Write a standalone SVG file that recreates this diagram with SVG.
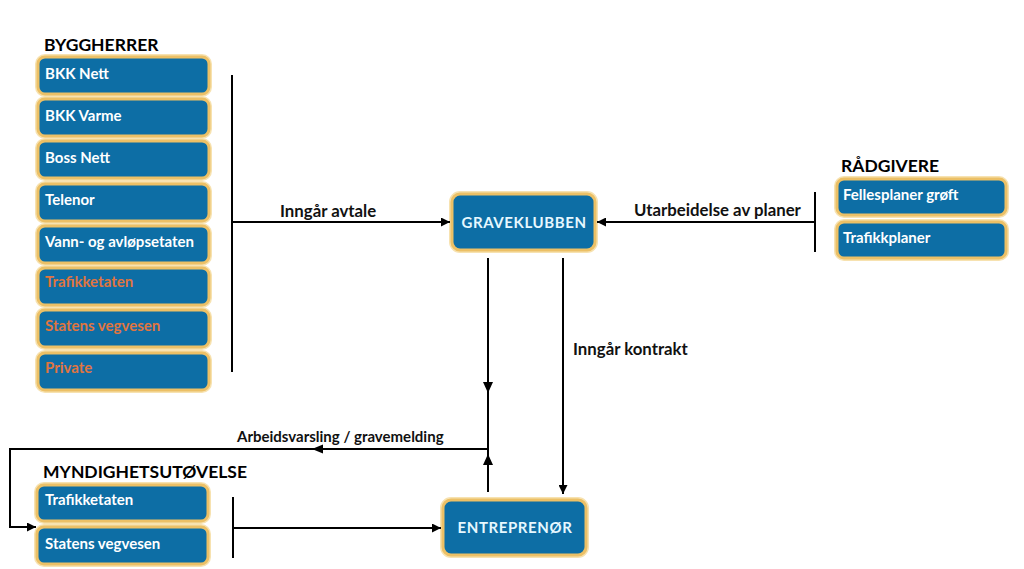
<svg xmlns="http://www.w3.org/2000/svg" width="1024" height="569" viewBox="0 0 1024 569">
<defs>
<style>
.box{fill:#0d6ea5;stroke:#ecc066;stroke-width:3}
.glow{fill:none;stroke:#f7e2b0;stroke-width:6}
.bt{font-family:Lato,"Liberation Sans",sans-serif;font-weight:700;font-size:15px;fill:#ffffff}
.ot{fill:#e0753f}
.ct{font-family:Lato,"Liberation Sans",sans-serif;font-weight:700;font-size:15px;fill:#e6f8ff;letter-spacing:0.6px}
.hd{font-family:Lato,"Liberation Sans",sans-serif;font-weight:700;font-size:17.5px;fill:#000}
.lb{font-family:Lato,"Liberation Sans",sans-serif;font-weight:700;font-size:16.8px;fill:#111}
.ln{stroke:#000;stroke-width:2;fill:none}
.ah{fill:#000}
</style>
<marker id="arr" viewBox="0 0 10 10" refX="10" refY="5" markerWidth="10" markerHeight="9" markerUnits="userSpaceOnUse" orient="auto">
<path d="M0,0 L10,5 L0,10 z" fill="#000"/>
</marker>
</defs>
<rect width="1024" height="569" fill="#ffffff"/>

<text class="hd" x="44" y="51">BYGGHERRER</text>
<text class="hd" x="43" y="478">MYNDIGHETSUTØVELSE</text>
<text class="hd" x="841" y="172">RÅDGIVERE</text>

<g id="bkk-nett"><rect class="glow" x="38" y="57" width="171" height="37" rx="7"/><rect class="box" x="38" y="57" width="171" height="37" rx="7"/><text class="bt" x="45" y="79">BKK Nett</text></g>
<g id="bkk-varme"><rect class="glow" x="38" y="99" width="171" height="37" rx="7"/><rect class="box" x="38" y="99" width="171" height="37" rx="7"/><text class="bt" x="45" y="121">BKK Varme</text></g>
<g id="boss-nett"><rect class="glow" x="38" y="141" width="171" height="37" rx="7"/><rect class="box" x="38" y="141" width="171" height="37" rx="7"/><text class="bt" x="45" y="163">Boss Nett</text></g>
<g id="telenor"><rect class="glow" x="38" y="184" width="171" height="37" rx="7"/><rect class="box" x="38" y="184" width="171" height="37" rx="7"/><text class="bt" x="45" y="205">Telenor</text></g>
<g id="vann"><rect class="glow" x="38" y="226" width="171" height="37" rx="7"/><rect class="box" x="38" y="226" width="171" height="37" rx="7"/><text class="bt" x="45" y="247">Vann- og avløpsetaten</text></g>
<g id="trafikketaten-1"><rect class="glow" x="38" y="268" width="171" height="37" rx="7"/><rect class="box" x="38" y="268" width="171" height="37" rx="7"/><text class="bt ot" x="45" y="287">Trafikketaten</text></g>
<g id="statens-1"><rect class="glow" x="38" y="310" width="171" height="37" rx="7"/><rect class="box" x="38" y="310" width="171" height="37" rx="7"/><text class="bt ot" x="45" y="331">Statens vegvesen</text></g>
<g id="private"><rect class="glow" x="38" y="353" width="171" height="37" rx="7"/><rect class="box" x="38" y="353" width="171" height="37" rx="7"/><text class="bt ot" x="45" y="373">Private</text></g>

<g id="trafikketaten-2"><rect class="glow" x="37" y="485" width="171" height="36" rx="7"/><rect class="box" x="37" y="485" width="171" height="36" rx="7"/><text class="bt" x="45" y="505">Trafikketaten</text></g>
<g id="statens-2"><rect class="glow" x="37" y="527" width="171" height="37" rx="7"/><rect class="box" x="37" y="527" width="171" height="37" rx="7"/><text class="bt" x="45" y="549">Statens vegvesen</text></g>

<g id="fellesplaner"><rect class="glow" x="837" y="179" width="169" height="36" rx="7"/><rect class="box" x="837" y="179" width="169" height="36" rx="7"/><text class="bt" x="843" y="200">Fellesplaner grøft</text></g>
<g id="trafikkplaner"><rect class="glow" x="837" y="222" width="169" height="36" rx="7"/><rect class="box" x="837" y="222" width="169" height="36" rx="7"/><text class="bt" x="843" y="243">Trafikkplaner</text></g>

<g id="graveklubben"><rect class="glow" x="452" y="194" width="143" height="56" rx="8"/><rect class="box" x="452" y="194" width="143" height="56" rx="8"/><text class="ct" x="524" y="227.5" text-anchor="middle">GRAVEKLUBBEN</text></g>
<g id="entreprenor"><rect class="glow" x="443" y="500" width="143" height="55" rx="8"/><rect class="box" x="443" y="500" width="143" height="55" rx="8"/><text class="ct" x="515" y="533" text-anchor="middle">ENTREPRENØR</text></g>

<g id="connectors">
<line class="ln" x1="232" y1="75" x2="232" y2="372"/>
<line class="ln" x1="232" y1="222" x2="450" y2="222" marker-end="url(#arr)"/>
<line class="ln" x1="815" y1="192" x2="815" y2="252"/>
<line class="ln" x1="815" y1="222" x2="597" y2="222" marker-end="url(#arr)"/>
<line class="ln" x1="488" y1="258" x2="488" y2="492"/>
<polygon class="ah" points="483,382 493,382 488,393"/>
<polygon class="ah" points="483,465 493,465 488,454"/>
<line class="ln" x1="563" y1="258" x2="563" y2="494" marker-end="url(#arr)"/>
<polyline class="ln" points="488,449 10,449 10,527 36,527" marker-end="url(#arr)"/>
<polygon class="ah" points="323,444.5 323,453.5 312,449"/>
<line class="ln" x1="233" y1="497" x2="233" y2="558"/>
<line class="ln" x1="233" y1="528" x2="441" y2="528" marker-end="url(#arr)"/>
</g>

<text class="lb" x="280" y="217">Inngår avtale</text>
<text class="lb" x="634" y="216">Utarbeidelse av planer</text>
<text class="lb" x="573" y="355">Inngår kontrakt</text>
<text class="lb" x="237" y="442" style="font-size:15px">Arbeidsvarsling / gravemelding</text>
</svg>
